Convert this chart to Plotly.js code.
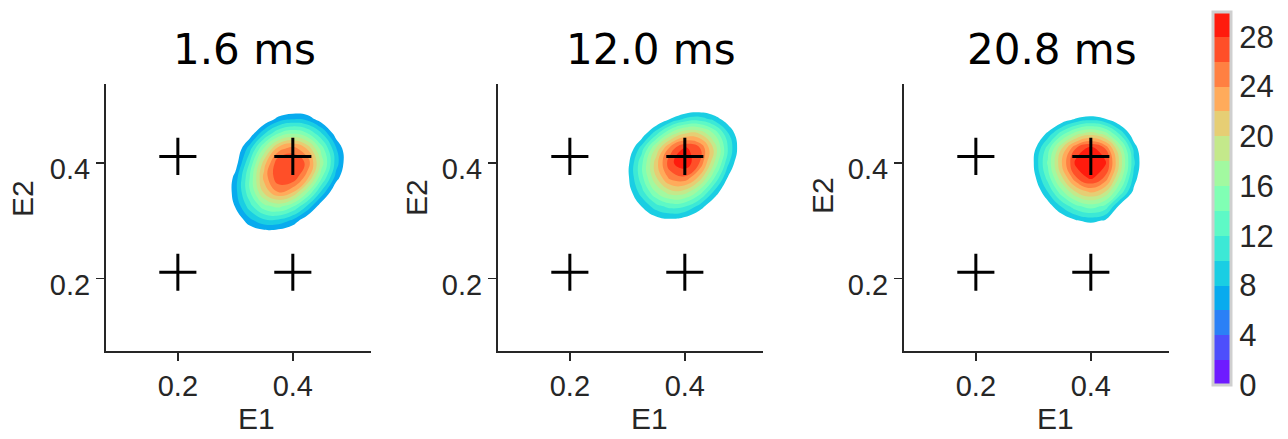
<!DOCTYPE html>
<html>
<head>
<meta charset="utf-8">
<script src="https://cdn.plot.ly/plotly-3.0.1.min.js"></script>
<style>html,body{margin:0;padding:0;background:#fff;}#chart{width:1288px;height:439px;}</style>
</head>
<body>
<div id="chart"></div>
<script>
// ---------------- data ----------------
const PANEL_TITLES = ['1.6 ms', '12.0 ms', '20.8 ms'];
const AXIS_TICKS = [0.2, 0.4];
const AXIS_TICK_TEXT = ['0.2', '0.4'];
const COLORBAR_TICKS = [0, 4, 8, 12, 16, 20, 24, 28];

// stimulating electrode positions (the black crosses)
const CROSS_E1 = [0.2, 0.4, 0.2, 0.4];
const CROSS_E2 = [0.211, 0.211, 0.411, 0.411];

// density grid (estimated from the filled contours)
const GRID_E1 = [0.275, 0.300, 0.325, 0.350, 0.375, 0.400, 0.425, 0.450, 0.475, 0.500, 0.525];
const GRID_E2 = [0.275, 0.300, 0.325, 0.350, 0.375, 0.400, 0.425, 0.450, 0.475, 0.500, 0.525];

const DENSITY_1_6MS = [
  [1.2, 2.2, 3.4, 4.0, 3.7, 2.7, 1.6, 0.8, 0.3, 0.1, 0.0],
  [1.8, 3.8, 7.3, 9.4, 9.4, 7.5, 4.0, 2.0, 0.8, 0.3, 0.1],
  [2.4, 6.2, 11.1, 15.3, 16.7, 14.3, 9.7, 4.4, 1.9, 0.7, 0.2],
  [2.5, 7.2, 13.7, 20.6, 24.2, 22.4, 16.4, 9.6, 3.7, 1.4, 0.4],
  [2.2, 6.8, 14.0, 22.7, 27.7, 27.7, 22.9, 14.4, 7.2, 2.4, 0.8],
  [1.7, 4.7, 12.1, 21.0, 27.7, 27.7, 25.6, 17.1, 9.1, 3.2, 1.1],
  [1.2, 3.4, 9.1, 16.2, 22.8, 25.0, 21.7, 15.0, 8.2, 3.1, 1.0],
  [0.7, 2.0, 4.5, 9.8, 14.2, 16.1, 14.4, 10.3, 4.9, 2.2, 0.8],
  [0.3, 0.9, 2.0, 3.9, 6.9, 8.1, 7.5, 4.7, 2.7, 1.3, 0.4],
  [0.1, 0.3, 0.8, 1.4, 2.2, 2.7, 2.6, 2.0, 1.2, 0.6, 0.3],
  [0.0, 0.1, 0.2, 0.5, 0.8, 1.0, 1.0, 0.7, 0.5, 0.2, 0.1]
];
const DENSITY_12_0MS = [
  [1.0, 1.7, 2.7, 3.4, 3.5, 3.1, 2.2, 1.2, 0.6, 0.2, 0.1],
  [1.6, 3.2, 5.0, 6.7, 7.3, 6.6, 4.9, 2.9, 1.4, 0.5, 0.2],
  [2.4, 4.9, 8.1, 11.2, 12.8, 12.2, 9.4, 5.8, 2.9, 1.1, 0.4],
  [3.1, 6.5, 11.2, 16.2, 19.3, 19.1, 15.4, 9.9, 5.2, 2.2, 0.7],
  [3.4, 7.3, 13.3, 19.9, 24.9, 25.7, 21.6, 14.6, 7.9, 3.5, 1.2],
  [3.1, 7.1, 13.5, 21.1, 27.5, 29.6, 26.1, 18.4, 10.5, 4.8, 1.8],
  [2.3, 5.5, 11.0, 18.2, 24.9, 28.4, 26.5, 19.8, 11.9, 5.8, 2.3],
  [1.2, 3.1, 6.5, 11.4, 16.7, 20.2, 20.1, 16.1, 10.3, 5.3, 2.2],
  [0.5, 1.3, 2.8, 5.3, 8.2, 10.5, 11.2, 9.5, 6.6, 3.6, 1.6],
  [0.1, 0.4, 0.9, 1.8, 3.0, 4.0, 4.6, 4.2, 3.0, 1.8, 0.9],
  [0.0, 0.1, 0.2, 0.5, 0.8, 1.1, 1.4, 1.3, 1.0, 0.7, 0.3]
];
const DENSITY_20_8MS = [
  [0.5, 1.0, 1.9, 3.0, 3.9, 4.3, 3.8, 2.6, 1.4, 0.6, 0.2],
  [1.0, 2.1, 3.9, 6.0, 7.8, 8.6, 7.7, 5.3, 2.8, 1.1, 0.4],
  [1.7, 3.6, 6.7, 10.4, 13.5, 15.0, 13.4, 7.4, 4.9, 2.0, 0.6],
  [2.5, 5.4, 10.0, 15.5, 20.2, 22.4, 20.0, 13.7, 7.3, 2.9, 0.9],
  [3.2, 7.0, 12.9, 19.9, 26.0, 28.8, 25.7, 17.7, 9.3, 3.8, 1.2],
  [3.6, 7.8, 14.3, 22.1, 28.9, 31.9, 28.5, 19.6, 10.4, 4.2, 1.3],
  [3.2, 7.0, 12.9, 20.0, 26.2, 28.9, 25.9, 17.8, 9.4, 3.8, 1.2],
  [2.1, 4.7, 8.6, 13.3, 17.3, 19.2, 17.1, 11.8, 6.2, 2.5, 0.8],
  [1.0, 2.3, 4.1, 6.4, 8.4, 9.3, 8.3, 5.7, 3.0, 1.2, 0.4],
  [0.4, 0.8, 1.5, 2.3, 3.0, 3.3, 2.9, 2.0, 1.1, 0.4, 0.1],
  [0.1, 0.2, 0.4, 0.6, 0.8, 0.8, 0.8, 0.6, 0.3, 0.1, 0.0]
];
const DENSITIES = [DENSITY_1_6MS, DENSITY_12_0MS, DENSITY_20_8MS];
// lowest filled level in each panel (below it nothing is painted)
const LOWEST_LEVEL = [6, 8, 8];

// ---------------- styling ----------------
const LEVEL_STEP = 2, LEVEL_TOP = 28;
const BAND_COLORS = [
  'rgb(110,27,255)', 'rgb(77,79,252)', 'rgb(43,128,246)', 'rgb(8,171,238)',
  'rgb(26,206,227)', 'rgb(60,233,214)', 'rgb(94,249,198)', 'rgb(128,255,180)',
  'rgb(162,249,160)', 'rgb(196,233,139)', 'rgb(230,206,116)', 'rgb(255,171,91)',
  'rgb(255,128,66)', 'rgb(255,79,40)', 'rgb(255,27,13)'
];
const INK = '#262626';
const FONT = 'Liberation Sans, Arial, sans-serif';
const W = 1288, H = 439;
const X_DOMAINS = [[106 / W, 371 / W], [498 / W, 763 / W], [904 / W, 1169 / W]];
const Y_DOMAIN = [(H - 351) / H, (H - 84) / H];
const AX_RANGE = [0.075, 0.536];
const TITLE_X = [244.5, 651, 1052];
const E1_X = [256.5, 649.5, 1055];
const E2_X = [22.5, 416.5, 822];
const E2_Y = [198.5, 197.5, 196];

function contourScale(start) {
  const nc = Math.floor((LEVEL_TOP - start) / LEVEL_STEP) + 1;
  const scale = [[0, 'rgba(255,255,255,0)']];
  for (let k = 1; k <= nc; k++) {
    const band = start / LEVEL_STEP + k - 1;
    scale.push([k / nc, BAND_COLORS[band]]);
  }
  return scale;
}
function barScale() {
  const n = BAND_COLORS.length, s = [];
  BAND_COLORS.forEach((c, i) => { s.push([i / n, c]); s.push([(i + 1) / n, c]); });
  return s;
}

const traces = [];
const layout = {
  width: W, height: H,
  margin: {l: 0, r: 0, t: 0, b: 0},
  paper_bgcolor: '#fff', plot_bgcolor: '#fff',
  showlegend: false,
  font: {family: FONT, color: INK},
  annotations: []
};

for (let p = 0; p < 3; p++) {
  const sx = p === 0 ? '' : String(p + 1);
  traces.push({
    type: 'contour', x: GRID_E1, y: GRID_E2, z: DENSITIES[p],
    xaxis: 'x' + sx, yaxis: 'y' + sx,
    autocontour: false,
    contours: {start: LOWEST_LEVEL[p], end: LEVEL_TOP, size: LEVEL_STEP, coloring: 'fill', showlines: false},
    line: {width: 0, smoothing: 1.3},
    colorscale: contourScale(LOWEST_LEVEL[p]),
    showscale: false, hoverinfo: 'skip'
  });
  traces.push({
    type: 'scatter', mode: 'markers', x: CROSS_E1, y: CROSS_E2,
    xaxis: 'x' + sx, yaxis: 'y' + sx,
    marker: {symbol: 'cross-thin', size: 26.5, color: '#000', line: {color: '#000', width: 3}},
    hoverinfo: 'skip'
  });
  const axCommon = {
    range: AX_RANGE, showgrid: false, zeroline: false,
    showline: true, linecolor: INK, linewidth: 2,
    ticks: 'outside', ticklen: 8, tickwidth: 1.5, tickcolor: INK,
    tickvals: AXIS_TICKS, ticktext: AXIS_TICK_TEXT,
    tickfont: {size: 29, color: INK, family: FONT},
    fixedrange: true
  };
  layout['xaxis' + sx] = Object.assign({}, axCommon, {domain: X_DOMAINS[p], anchor: 'y' + sx, ticklabelstandoff: 0});
  layout['yaxis' + sx] = Object.assign({}, axCommon, {domain: Y_DOMAIN, anchor: 'x' + sx, ticklabelshift: 6, ticklabelstandoff: 0});

  layout.annotations.push({
    text: PANEL_TITLES[p], xref: 'paper', yref: 'paper',
    x: TITLE_X[p] / W, y: 1 - 49 / H, xanchor: 'center', yanchor: 'middle',
    showarrow: false, font: {family: 'DejaVu Sans, sans-serif', size: 42, color: '#000'}
  });
  layout.annotations.push({
    text: 'E1', xref: 'paper', yref: 'paper',
    x: E1_X[p] / W, y: 1 - 418 / H, xanchor: 'center', yanchor: 'middle',
    showarrow: false, font: {size: 30, color: INK, family: FONT}
  });
  layout.annotations.push({
    text: 'E2', xref: 'paper', yref: 'paper', textangle: -90,
    x: E2_X[p] / W, y: 1 - E2_Y[p] / H, xanchor: 'center', yanchor: 'middle',
    showarrow: false, font: {size: 30, color: INK, family: FONT}
  });
}

// colour bar
traces.push({
  type: 'scatter', mode: 'markers', x: [0.3], y: [0.3], xaxis: 'x', yaxis: 'y',
  marker: {
    color: [0], cmin: 0, cmax: 30, colorscale: barScale(), opacity: 0, size: 1,
    showscale: true,
    colorbar: {
      x: 1213 / W, xanchor: 'left', xpad: 0, ypad: 0,
      y: 1 - 198.5 / H, yanchor: 'middle',
      len: 373, lenmode: 'pixels', thickness: 18, thicknessmode: 'pixels',
      outlinewidth: 3, outlinecolor: '#cfcfcf', borderwidth: 0,
      tickvals: COLORBAR_TICKS, ticks: '', ticklabelstandoff: 0,
      tickfont: {size: 31, color: INK, family: FONT}
    }
  },
  hoverinfo: 'skip'
});

Plotly.newPlot('chart', traces, layout, {staticPlot: true, displayModeBar: false});
</script>
</body>
</html>
